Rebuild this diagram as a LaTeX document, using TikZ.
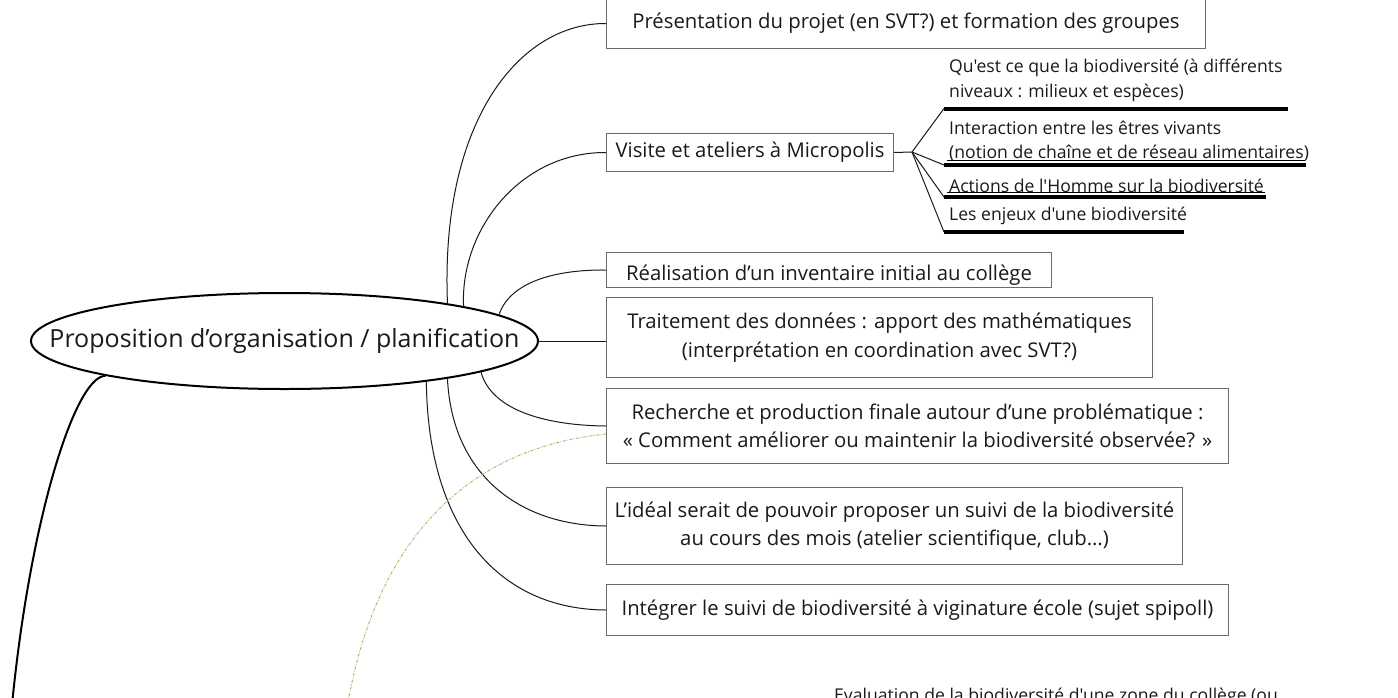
\documentclass[tikz,border=0pt]{standalone}
\usepackage{fontspec}
\setmainfont{Open Sans}[Ligatures=TeXOff]
\usetikzlibrary{shapes.geometric,calc}
\definecolor{boxgray}{HTML}{6A6A6A}
\definecolor{txt}{HTML}{1A1A1A}
\definecolor{dotgreen}{HTML}{93BF66}
\newcommand\boxfnt{\fontsize{20.3pt}{28.5pt}\selectfont}
\newcommand\subfnt{\fontsize{17.6pt}{24.5pt}\selectfont}
\newcommand\ellfnt{\fontsize{25pt}{30pt}\selectfont}
\begin{document}
\begin{tikzpicture}[x=1pt,y=-1pt,
  box/.style={draw=boxgray,line width=1pt,anchor=north west,inner sep=0pt,align=center,font=\boxfnt,text=txt},
  subitem/.style={anchor=west,inner sep=0pt,align=left,font=\subfnt,text=txt},
  link/.style={line width=1pt,draw=black!90},
  bar/.style={line width=4pt,draw=black},
  thinline/.style={line width=1pt,draw=black},
  greendot/.style={draw=dotgreen,line width=0.9pt,dash pattern=on 3pt off 1.5pt on 0.8pt off 1.5pt},
  thick link/.style={line width=2pt,draw=black}
]
\useasboundingbox (0,0) rectangle (1398,697);
\clip (0,0) rectangle (1398,697);
\fill[white] (0,0) rectangle (1398,697);

% central ellipse
\node[ellipse,draw=black,line width=2pt,minimum width=507pt,minimum height=96pt,inner sep=0pt,font=\ellfnt,text=txt] (ell) at (284.5,341) {\makebox[0pt][c]{Proposition d’organisation / planification}};

% boxes
\node[box,minimum width=599pt,minimum height=50pt] (p1) at (606,-2) {Présentation du projet (en SVT?) et formation des groupes};
\node[box,minimum width=287pt,minimum height=38pt] (p2) at (606,133) {Visite et ateliers à Micropolis};
\node[box,minimum width=445pt,minimum height=35pt,text height=23pt,text depth=2pt] (p3) at (606,252) {Réalisation d’un inventaire initial au collège};
\node[box,minimum width=546pt,minimum height=80pt] (p4) at (606,297) {Traitement des données : apport des mathématiques\\(interprétation en coordination avec SVT?)};
\node[box,minimum width=622pt,minimum height=75pt] (p5) at (606,388) {Recherche et production finale autour d’une problématique :\\« Comment améliorer ou maintenir la biodiversité observée? »};
\node[box,minimum width=576pt,minimum height=77pt] (p6) at (606,487) {L’idéal serait de pouvoir proposer un suivi de la biodiversité\\au cours des mois (atelier scientifique, club…)};
\node[box,minimum width=622pt,minimum height=51pt] (p7) at (606,584) {Intégrer le suivi de biodiversité à viginature école (sujet spipoll)};

% sub items of Visite
\node[subitem] (s1) at (949,80.5) {Qu'est ce que la biodiversité (à différents\\niveaux : milieux et espèces)};
\node[subitem] (s2) at (949,141) {Interaction entre les êtres vivants\\(notion de chaîne et de réseau alimentaires)};
\node[subitem] (s3) at (949,186) {Actions de l'Homme sur la biodiversité};
\node[subitem] (s4) at (949,216) {Les enjeux d'une biodiversité};

% bottom (cut) item
\node[anchor=base,inner sep=0pt,font=\subfnt,text=txt] (s5) at (1056,701) {Evaluation de la biodiversité d'une zone du collège (ou};

% bars under sub items
\coordinate (b1) at (944,108.5); \coordinate (b1e) at (1288,108.5);
\coordinate (b2) at (944,165);   \coordinate (b2e) at (1306,165);
\coordinate (b3) at (944,197);   \coordinate (b3e) at (1266,197);
\coordinate (b4) at (944,232);   \coordinate (b4e) at (1184,232);
\draw[bar] (b1) -- (b1e);
\draw[bar] (b2) -- (b2e);
\draw[bar] (b3) -- (b3e);
\draw[bar] (b4) -- (b4e);
\coordinate (u2) at (947,160.5); \coordinate (u2e) at (1305,160.5);
\coordinate (u3) at (947,192);   \coordinate (u3e) at (1265,192);
\draw[thinline] (u2) -- (u2e);
\draw[thinline] (u3) -- (u3e);

% fork
\coordinate (fork) at (912,152);
\draw[link] (p2.east) -- (fork);
\draw[link] (fork) -- (b1);
\draw[link] (fork) -- (b2);
\draw[link] (fork) -- (b3);
\draw[link] (fork) -- (b4);

% connectors from the ellipse
\draw[link] (ell.13.6) .. controls (440,120) and (520,23) .. (p1.west);
\draw[link] (ell.11.5) .. controls (460,230) and (520,152) .. (p2.west);
\draw[link] (ell.7.8) .. controls (510,282) and (555,269.5) .. (p3.west);
\draw[link] (ell.east) -- (ell.east -| p4.west);
\draw[link] (ell.-9.7) .. controls (492,412) and (550,425.5) .. (p5.west);
\draw[link] (ell.-13.75) .. controls (452,475) and (520,525.5) .. (p6.west);
\draw[link] (ell.-16.3) .. controls (428,530) and (500,609.5) .. (p7.west);

% green dotted relation
\coordinate (gs) at ($(p5.west)+(0,8)$);
\coordinate (gend) at (347,708);
\draw[greendot] (gs) .. controls (450,450) and (372,560) .. (gend);

% thick branch leaving the picture at the bottom
\coordinate (lend) at (12,705);
\draw[thick link] (ell.191.6) .. controls (75,376) and (30,520) .. (lend);
\end{tikzpicture}
\end{document}
